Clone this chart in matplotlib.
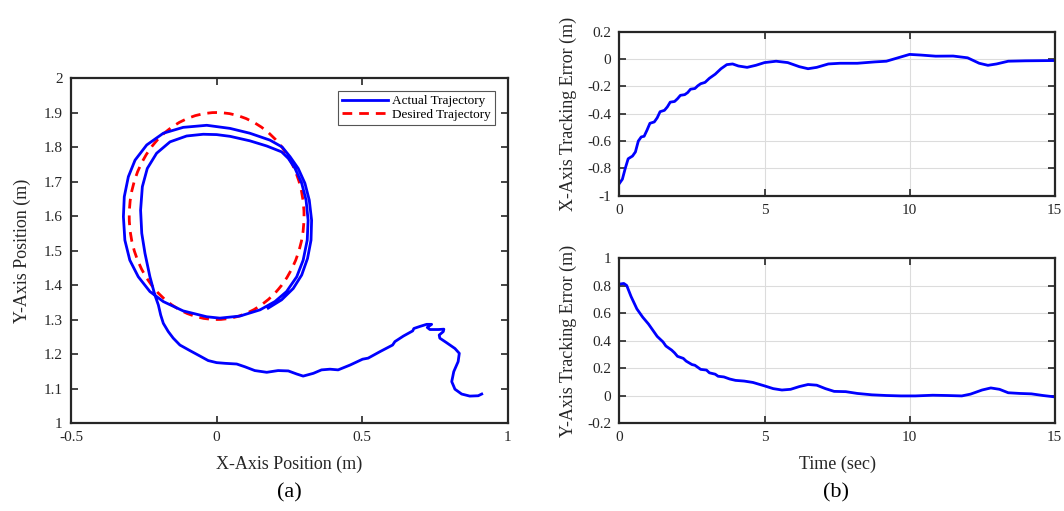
import numpy as np
import matplotlib.pyplot as plt
from matplotlib.patches import Circle
from matplotlib.lines import Line2D

plt.rcParams['font.family'] = ['Liberation Serif', 'DejaVu Serif']

traj_x = [0.910, 0.898, 0.869, 0.841, 0.818, 0.807, 0.814, 0.829, 0.833, 0.818,
          0.789, 0.766, 0.764, 0.778, 0.780, 0.761, 0.732, 0.723, 0.738, 0.721,
          0.698, 0.677, 0.673, 0.641, 0.612, 0.604, 0.561, 0.520, 0.501, 0.458,
          0.417, 0.389, 0.360, 0.332, 0.297, 0.275, 0.246, 0.211, 0.172, 0.131,
          0.097, 0.069, 0.029, 0.000, -0.029, -0.057, -0.092, -0.126, -0.149, -0.166,
          -0.183, -0.192, -0.200,
          -0.212, -0.229, -0.246, -0.257, -0.261, -0.255, -0.238, -0.206, -0.160, -0.103,
          -0.046, 0.000, 0.046, 0.114, 0.172, 0.223, 0.246,
          0.269, 0.292, 0.307, 0.314, 0.311, 0.297, 0.275, 0.240, 0.200, 0.149,
          0.080, 0.011,
          -0.034, -0.115, -0.183, -0.229, -0.269, -0.298, -0.315, -0.320, -0.317, -0.303,
          -0.280, -0.240, -0.183, -0.115, -0.034, 0.046, 0.114, 0.183, 0.225, 0.252,
          0.280, 0.303, 0.318, 0.326, 0.324, 0.312, 0.292, 0.263, 0.223, 0.177]
traj_y = [1.084, 1.079, 1.078, 1.084, 1.098, 1.120, 1.149, 1.178, 1.202, 1.216,
          1.233, 1.246, 1.255, 1.265, 1.272, 1.271, 1.271, 1.277, 1.286, 1.286,
          1.280, 1.274, 1.267, 1.252, 1.236, 1.226, 1.207, 1.188, 1.185, 1.168,
          1.154, 1.156, 1.154, 1.144, 1.136, 1.142, 1.151, 1.152, 1.147, 1.152,
          1.163, 1.171, 1.173, 1.175, 1.181, 1.194, 1.210, 1.226, 1.246, 1.265,
          1.289, 1.313, 1.342,
          1.371, 1.424, 1.492, 1.550, 1.617, 1.685, 1.738, 1.782, 1.815, 1.832,
          1.837, 1.836, 1.831, 1.818, 1.803, 1.786, 1.767,
          1.738, 1.695, 1.646, 1.588, 1.530, 1.472, 1.424, 1.381, 1.352, 1.328,
          1.310, 1.304,
          1.308, 1.325, 1.352, 1.381, 1.424, 1.472, 1.530, 1.598, 1.656, 1.714,
          1.762, 1.806, 1.840, 1.857, 1.863, 1.854, 1.840, 1.820, 1.800, 1.772,
          1.738, 1.695, 1.646, 1.588, 1.530, 1.477, 1.429, 1.390, 1.357, 1.333]

# Trayectoria deseada: circulo
centro = (0.0, 1.6)
radio = 0.3

# Error de seguimiento en X
t_ex = [0, 0.1, 0.2, 0.3, 0.45, 0.55, 0.65, 0.75, 0.85, 0.95,
        1.05, 1.2, 1.3, 1.4, 1.55, 1.65, 1.75, 1.9, 2.0, 2.1,
        2.25, 2.35, 2.45, 2.6, 2.7, 2.8, 2.95, 3.1, 3.3, 3.5,
        3.7, 3.9, 4.1, 4.4, 4.7, 5.0, 5.4, 5.8, 6.2, 6.5,
        6.8, 7.2, 7.6, 8.2, 8.8, 9.2, 9.6, 10.0, 10.4, 10.9,
        11.5, 12.0, 12.4, 12.7, 13.0, 13.4, 14.0, 15.0]
ex = [-0.91, -0.88, -0.80, -0.73, -0.71, -0.68, -0.60, -0.57, -0.565, -0.52,
      -0.47, -0.46, -0.43, -0.385, -0.375, -0.35, -0.315, -0.31, -0.29, -0.265,
      -0.26, -0.245, -0.22, -0.215, -0.195, -0.18, -0.17, -0.14, -0.11, -0.07,
      -0.04, -0.035, -0.05, -0.06, -0.045, -0.025, -0.015, -0.025, -0.055, -0.07,
      -0.06, -0.035, -0.03, -0.03, -0.02, -0.015, 0.01, 0.035, 0.03, 0.022,
      0.023, 0.01, -0.03, -0.045, -0.035, -0.015, -0.012, -0.01]

# Error de seguimiento en Y
t_ey = [0, 0.15, 0.25, 0.4, 0.6, 0.8, 1.0, 1.1, 1.3, 1.5,
        1.6, 1.8, 1.9, 2.0, 2.2, 2.3, 2.5, 2.6, 2.8, 3.0,
        3.1, 3.3, 3.4, 3.6, 3.8, 4.0, 4.3, 4.6, 5.0, 5.3,
        5.6, 5.9, 6.2, 6.5, 6.8, 7.1, 7.4, 7.8, 8.2, 8.7,
        9.2, 9.7, 10.2, 10.8, 11.3, 11.8, 12.1, 12.5, 12.8, 13.1,
        13.4, 13.8, 14.2, 14.6, 15.0]
ey = [0.81, 0.815, 0.80, 0.72, 0.63, 0.57, 0.52, 0.49, 0.43, 0.39,
      0.36, 0.33, 0.31, 0.285, 0.27, 0.25, 0.225, 0.22, 0.19, 0.185,
      0.165, 0.155, 0.14, 0.135, 0.12, 0.11, 0.105, 0.095, 0.07, 0.05,
      0.04, 0.045, 0.065, 0.08, 0.075, 0.05, 0.03, 0.028, 0.015, 0.005,
      0.0, -0.003, -0.003, 0.002, 0.0, -0.003, 0.01, 0.04, 0.055, 0.045,
      0.02, 0.015, 0.012, 0.0, -0.01]

azul = '#0000ff'
rojo = '#ff0000'
gris = '#262626'
guion = (0, (3.5, 2.5))

fig = plt.figure(figsize=(10.64, 5.11), dpi=100)
ax1 = fig.add_axes([0.0667, 0.1722, 0.4107, 0.6751])
ax2 = fig.add_axes([0.5822, 0.6172, 0.4090, 0.3204])
ax3 = fig.add_axes([0.5822, 0.1722, 0.4090, 0.3229])


def estilo(ax):
    for s in ax.spines.values():
        s.set_linewidth(1.6)
        s.set_color(gris)
    ax.tick_params(direction='in', top=True, right=True, length=5, width=1.2,
                   color=gris, labelcolor=gris, labelsize=11, pad=6)


# (a) trayectoria
ax1.plot(traj_x, traj_y, '-', color=azul, linewidth=2.0, zorder=3,
         solid_joinstyle='round')
ax1.add_patch(Circle(centro, radio, fill=False, edgecolor=rojo, linewidth=2.0,
                     linestyle=guion, zorder=2))
ax1.set_xlim(-0.5, 1)
ax1.set_ylim(1, 2)
ax1.set_xticks([-0.5, 0, 0.5, 1])
ax1.set_xticklabels(['-0.5', '0', '0.5', '1'])
ax1.set_yticks(np.round(np.arange(1, 2.01, 0.1), 1))
ax1.set_yticklabels(['1', '1.1', '1.2', '1.3', '1.4', '1.5', '1.6', '1.7', '1.8', '1.9', '2'])
estilo(ax1)
ax1.set_xlabel('X-Axis Position (m)', fontsize=13, color=gris, labelpad=8)
ax1.set_ylabel('Y-Axis Position (m)', fontsize=13, color=gris, labelpad=9)
handles = [Line2D([], [], color=azul, linewidth=2.0),
           Line2D([], [], color=rojo, linewidth=2.0, linestyle=guion)]
leg = ax1.legend(handles, ['Actual Trajectory', 'Desired Trajectory'], loc='upper right',
                 fontsize=9.5, fancybox=False, framealpha=1, edgecolor='#555555',
                 handlelength=3.5, borderaxespad=1.0, labelspacing=0.1,
                 handletextpad=0.3, borderpad=0.3)
leg.get_frame().set_linewidth(0.8)

# (b) errores
ax2.plot(t_ex, ex, '-', color=azul, linewidth=2.0, solid_joinstyle='round')
ax2.set_xlim(0, 15)
ax2.set_ylim(-1, 0.2)
ax2.set_xticks([0, 5, 10, 15])
ax2.set_yticks(np.round(np.arange(-1, 0.21, 0.2), 1))
ax2.set_yticklabels(['-1', '-0.8', '-0.6', '-0.4', '-0.2', '0', '0.2'])
ax2.grid(True, color='#dcdcdc', linewidth=0.8)
ax2.set_axisbelow(True)
estilo(ax2)
ax2.set_ylabel('X-Axis Tracking Error (m)', fontsize=13, color=gris, labelpad=7)

ax3.plot(t_ey, ey, '-', color=azul, linewidth=2.0, solid_joinstyle='round')
ax3.set_xlim(0, 15)
ax3.set_ylim(-0.2, 1)
ax3.set_xticks([0, 5, 10, 15])
ax3.set_yticks(np.round(np.arange(-0.2, 1.01, 0.2), 1))
ax3.set_yticklabels(['-0.2', '0', '0.2', '0.4', '0.6', '0.8', '1'])
ax3.grid(True, color='#dcdcdc', linewidth=0.8)
ax3.set_axisbelow(True)
estilo(ax3)
ax3.set_xlabel('Time (sec)', fontsize=13, color=gris, labelpad=8)
ax3.set_ylabel('Y-Axis Tracking Error (m)', fontsize=13, color=gris, labelpad=7)

fig.text(289 / 1064, 1 - 493 / 511, '(a)', fontsize=16, ha='center', va='center')
fig.text(836 / 1064, 1 - 493 / 511, '(b)', fontsize=16, ha='center', va='center')

plt.savefig('out.png', dpi=100)
